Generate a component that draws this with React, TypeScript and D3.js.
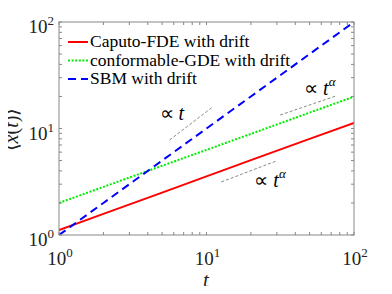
import React, { useEffect, useRef } from 'react';
import * as d3 from 'd3';

// values (log-log)
const tVals = [1, 2, 5, 10, 20, 50, 100];
const caputo = [1.11, 1.58, 2.5, 3.55, 5.05, 8.0, 11.3];
const conformable = [2.0, 2.83, 4.47, 6.3, 8.9, 14.1, 19.9];
const sbm = [1.0, 2.0, 5.0, 10.0, 20.0, 50.0, 100.0];

const seriesNames = ['Caputo-FDE with drift', 'conformable-GDE with drift', 'SBM with drift'];
const seriesColors = ['#ff0000', '#00ee00', '#0000ff'];
const seriesDash = ['none', '2,1.6', '8,5'];

const majorTicks = [1, 10, 100];
const tickExp = ['0', '1', '2'];

// guide segments [t0, y0, t1, y1] and their labels [t, y, sup]
const guides = [
  [5.62, 7.8, 11.0, 15.9],
  [31.6, 13.4, 75.5, 20.2],
  [12.6, 3.15, 29.7, 4.95],
];
const guideLabels: [number, number, string][] = [
  [4.81, 12.0, ''],
  [45.9, 20.6, 'α'],
  [21.1, 2.82, 'α'],
];

const W = 392;
const H = 294;
const m = { left: 59, right: 354, top: 22, bottom: 235 };
const FONT = 'Times New Roman, Liberation Serif, serif';

const App: React.FC = () => {
  const svgRef = useRef<SVGSVGElement>(null);

  useEffect(() => {
    if (!svgRef.current) return;
    const svg = d3.select(svgRef.current);
    svg.selectAll('*').remove();

    const x = d3.scaleLog().domain([1, 100]).range([m.left, m.right]);
    const y = d3.scaleLog().domain([1, 100]).range([m.bottom, m.top]);

    const line = d3.line<[number, number]>()
      .x(d => x(d[0]))
      .y(d => y(d[1]));

    svg.append('defs').append('clipPath').attr('id', 'plot')
      .append('rect')
      .attr('x', m.left).attr('y', m.top)
      .attr('width', m.right - m.left).attr('height', m.bottom - m.top);

    // data lines
    const series = [caputo, conformable, sbm];
    const lines = svg.append('g').attr('clip-path', 'url(#plot)');
    series.forEach((s, i) => {
      lines.append('path')
        .attr('d', line(tVals.map((t, j) => [t, s[j]] as [number, number])))
        .attr('fill', 'none')
        .attr('stroke', seriesColors[i])
        .attr('stroke-width', 2)
        .attr('stroke-dasharray', seriesDash[i]);
    });

    // guide lines + labels
    guides.forEach(g => {
      svg.append('line')
        .attr('x1', x(g[0])).attr('y1', y(g[1]))
        .attr('x2', x(g[2])).attr('y2', y(g[3]))
        .attr('stroke', '#555')
        .attr('stroke-width', 0.7)
        .attr('stroke-dasharray', '3,2');
    });
    guideLabels.forEach(l => {
      const txt = svg.append('text')
        .attr('x', x(l[0])).attr('y', y(l[1]))
        .style('font-family', FONT)
        .attr('font-size', 20)
        .attr('fill', '#000');
      txt.append('tspan').text('∝ ');
      txt.append('tspan').attr('font-style', 'italic').text('t');
      if (l[2]) {
        txt.append('tspan').attr('font-style', 'italic').attr('font-size', 13).attr('dy', -9).text(l[2]);
      }
    });

    // axes box
    svg.append('rect')
      .attr('x', m.left).attr('y', m.top)
      .attr('width', m.right - m.left).attr('height', m.bottom - m.top)
      .attr('fill', 'none')
      .attr('stroke', '#888')
      .attr('stroke-width', 1);

    // ticks, minor 2..9 in each decade
    const minor: number[] = [];
    [1, 10].forEach(dec => {
      for (let k = 2; k <= 9; k++) minor.push(dec * k);
    });
    const tl = 3;
    const tg = svg.append('g').attr('stroke', '#888').attr('stroke-width', 1);
    [...majorTicks, ...minor].forEach(t => {
      tg.append('line').attr('x1', x(t)).attr('x2', x(t)).attr('y1', m.bottom).attr('y2', m.bottom - tl);
      tg.append('line').attr('x1', x(t)).attr('x2', x(t)).attr('y1', m.top).attr('y2', m.top + tl);
      tg.append('line').attr('y1', y(t)).attr('y2', y(t)).attr('x1', m.left).attr('x2', m.left + tl);
      tg.append('line').attr('y1', y(t)).attr('y2', y(t)).attr('x1', m.right).attr('x2', m.right - tl);
    });

    // tick labels
    majorTicks.forEach((t, i) => {
      const xl = svg.append('text')
        .attr('x', x(t) + 1).attr('y', 265)
        .attr('text-anchor', 'middle')
        .style('font-family', FONT)
        .attr('font-size', 19)
        .attr('fill', '#222');
      xl.append('tspan').text('10');
      xl.append('tspan').attr('font-size', 13).attr('dy', -8).text(tickExp[i]);

      const yl = svg.append('text')
        .attr('x', m.left - 5).attr('y', y(t) + 11)
        .attr('text-anchor', 'end')
        .style('font-family', FONT)
        .attr('font-size', 19)
        .attr('fill', '#222');
      yl.append('tspan').text('10');
      yl.append('tspan').attr('font-size', 13).attr('dy', -8).text(tickExp[i]);
    });

    // axis labels
    svg.append('text')
      .attr('x', 206).attr('y', 287)
      .attr('text-anchor', 'middle')
      .style('font-family', FONT)
      .attr('font-style', 'italic')
      .attr('font-size', 21)
      .attr('fill', '#222')
      .text('t');

    const ylab = svg.append('text')
      .attr('transform', `translate(18,${(m.top + m.bottom) / 2 + 1}) rotate(-90)`)
      .attr('text-anchor', 'middle')
      .style('font-family', FONT)
      .attr('font-size', 20)
      .attr('fill', '#222');
    ylab.append('tspan').text('⟨');
    ylab.append('tspan').attr('font-style', 'italic').text('x');
    ylab.append('tspan').text('(');
    ylab.append('tspan').attr('font-style', 'italic').text('t');
    ylab.append('tspan').text(')⟩');

    // legend
    seriesNames.forEach((name, i) => {
      const g = svg.append('g').attr('transform', `translate(0,${42 + i * 18.5})`);
      g.append('line')
        .attr('x1', 68).attr('x2', 88).attr('y1', 0).attr('y2', 0)
        .attr('stroke', seriesColors[i])
        .attr('stroke-width', 2)
        .attr('stroke-dasharray', seriesDash[i]);
      g.append('text')
        .attr('x', 90).attr('y', 5)
        .style('font-family', FONT)
        .attr('font-size', 17.5)
        .attr('fill', '#000')
        .text(name);
    });
  }, []);

  return (
    <div style={{ margin: -8 }}>
      <svg ref={svgRef} width={W} height={H} style={{ display: 'block' }}></svg>
    </div>
  );
};

export default App;
